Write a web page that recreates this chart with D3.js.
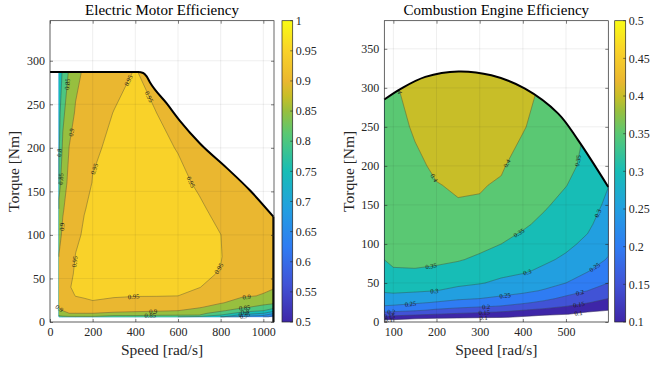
<!DOCTYPE html>
<html>
<head>
<meta charset="utf-8">
<script src="https://cdn.jsdelivr.net/npm/d3@7"></script>
<style>
  body { margin: 0; background: #fff; }
  svg text { font-family: "Liberation Serif", "DejaVu Serif", serif; fill: #262626; }
</style>
</head>
<body>
<svg id="chart" width="653" height="370"></svg>
<script>
// ---------- electric motor map (efficiency) ----------
const motorSpeed  = [42, 60, 90, 120, 160, 200, 300, 400, 500, 600, 700, 800, 900, 1000, 1047];
const motorTorque = [6, 8, 10, 13, 17, 22, 30, 40, 55, 75, 100, 130, 160, 200, 240, 290];
// one list per speed, values along motorTorque
const motorEff = [
  [.840, .856, .869, .888, .903, .911, .923, .927, .916, .902, .885, .864, .827, .793, .783, .770],
  [.845, .858, .875, .900, .906, .914, .927, .933, .927, .919, .909, .896, .880, .860, .838, .806],
  [.845, .867, .900, .907, .916, .928, .940, .949, .943, .936, .926, .919, .911, .901, .882, .855],
  [.845, .867, .900, .909, .921, .935, .951, .953, .954, .951, .945, .936, .927, .916, .904, .889],
  [.845, .867, .900, .912, .927, .946, .952, .954, .957, .956, .953, .949, .940, .929, .918, .904],
  [.845, .867, .900, .913, .929, .949, .952, .954, .957, .960, .957, .954, .951, .947, .935, .910],
  [.820, .864, .893, .910, .925, .944, .952, .954, .958, .964, .963, .961, .958, .954, .951, .937],
  [.820, .863, .888, .907, .921, .939, .951, .953, .957, .961, .967, .964, .961, .957, .954, .951],
  [.810, .856, .881, .905, .919, .936, .951, .953, .956, .961, .966, .963, .959, .955, .950, .935],
  [.800, .853, .872, .900, .912, .927, .950, .952, .954, .958, .962, .958, .955, .949, .938, .925],
  [.790, .850, .863, .883, .904, .917, .937, .951, .953, .956, .957, .953, .947, .937, .927, .915],
  [.760, .800, .827, .858, .881, .903, .922, .935, .949, .951, .9502, .944, .937, .929, .921, .910],
  [.690, .738, .780, .822, .858, .884, .904, .911, .922, .936, .937, .932, .927, .920, .913, .905],
  [.670, .710, .750, .800, .835, .864, .898, .905, .913, .924, .930, .926, .921, .914, .908, .900],
  [.630, .663, .710, .767, .820, .858, .889, .903, .911, .921, .926, .921, .917, .910, .903, .895]
];
const motorMaxSpeed  = [0, 414, 437, 453, 469, 547, 609, 703, 828, 938, 1047];
const motorMaxTorque = [287, 287, 286, 282, 275, 251, 231, 205, 177, 151, 121];
const motorLevels = [0.6, 0.65, 0.7, 0.75, 0.8, 0.85, 0.9, 0.95];
const motorXTicks = [0, 200, 400, 600, 800, 1000];
const motorYTicks = [0, 50, 100, 150, 200, 250, 300];
const motorCbTicks = [0.5, 0.55, 0.6, 0.65, 0.7, 0.75, 0.8, 0.85, 0.9, 0.95, 1];

// ---------- combustion engine map ----------
const engineSpeed  = [79, 100, 150, 200, 250, 300, 350, 400, 450, 500, 550, 598];
const engineTorque = [0, 3, 6, 10, 15, 20, 25, 30, 40, 50, 65, 80, 100, 125, 150, 175, 200, 250, 300, 340];
const engineEff = [
  [0, .100, .133, .178, .218, .247, .265, .282, .305, .316, .334, .3502, .356, .363, .370, .374, .377, .385, .390, .390],
  [0, .100, .130, .172, .215, .244, .264, .282, .308, .324, .348, .354, .360, .368, .375, .379, .383, .391, .397, .397],
  [0, .086, .123, .160, .206, .233, .257, .275, .305, .322, .348, .356, .364, .375, .385, .390, .395, .403, .409, .410],
  [0, .075, .117, .150, .192, .221, .247, .266, .300, .317, .343, .357, .369, .385, .392, .399, .404, .410, .417, .420],
  [0, .067, .112, .142, .181, .212, .236, .256, .288, .310, .334, .353, .367, .382, .3985, .4025, .406, .414, .422, .425],
  [0, .060, .107, .136, .171, .205, .227, .250, .278, .303, .323, .343, .361, .380, .398, .4015, .405, .411, .418, .420],
  [0, .055, .103, .130, .163, .197, .220, .241, .268, .291, .312, .328, .350, .369, .384, .3975, .4025, .408, .414, .415],
  [0, .046, .092, .121, .150, .181, .208, .229, .260, .280, .305, .318, .336, .356, .371, .383, .390, .402, .408, .406],
  [0, .038, .075, .111, .139, .165, .190, .211, .246, .266, .291, .307, .322, .340, .355, .365, .375, .389, .396, .395],
  [0, .032, .063, .102, .126, .150, .169, .189, .221, .250, .271, .293, .309, .323, .337, .351, .359, .375, .378, .380],
  [0, .025, .050, .083, .113, .133, .153, .169, .200, .222, .252, .269, .291, .308, .319, .330, .341, .346, .347, .348],
  [0, .020, .040, .067, .100, .117, .133, .150, .175, .200, .223, .247, .261, .276, .291, .301, .304, .310, .315, .320]
];
const engineMaxSpeed  = [79, 118, 174, 251, 327, 405, 482, 528, 598];
const engineMaxTorque = [285, 299, 314, 321, 316, 299, 267, 233, 173];
const engineLevels = [0.1, 0.15, 0.2, 0.25, 0.3, 0.35, 0.4, 0.45];
const engineXTicks = [100, 200, 300, 400, 500];
const engineYTicks = [0, 50, 100, 150, 200, 250, 300, 350];
const engineCbTicks = [0.1, 0.15, 0.2, 0.25, 0.3, 0.35, 0.4, 0.45, 0.5];

// parula-like colour map
const cmap = d3.scaleLinear()
  .domain([0, 0.125, 0.25, 0.375, 0.5, 0.625, 0.7, 0.75, 0.8, 0.9, 1])
  .range(["#3e26a8", "#4153d6", "#2f7cf3", "#229fe0", "#17bdb6", "#5ac873",
          "#97bf3f", "#c8be28", "#eab730", "#f9d229", "#f9fb14"])
  .interpolate(d3.interpolateRgb)
  .clamp(true);

const FONT = '"Liberation Serif", "DejaVu Serif", serif';
const svg = d3.select("#chart");
const fmt = v => String(+v.toFixed(2));

function drawMap(o) {
  const x = d3.scaleLinear().domain(o.xDomain).range(o.xRange);
  const y = d3.scaleLinear().domain(o.yDomain).range(o.yRange);
  const [xl, xr] = o.xRange, [yb, yt] = o.yRange;
  const g = svg.append("g");
  const color = l => cmap((l - o.cmin) / (o.cmax - o.cmin));

  // clip to the max torque envelope
  const clipId = "clip-" + o.id;
  const env = d3.area()
    .x((d, i) => x(o.maxS[i])).y0(y(0)).y1((d, i) => y(o.maxT[i]))
    .curve(o.curve);
  svg.append("clipPath").attr("id", clipId).append("path").attr("d", env(o.maxS));

  // grid -> contour bands
  const nx = o.speeds.length, ny = o.torques.length;
  const values = [];
  for (let j = 0; j < ny; j++) for (let i = 0; i < nx; i++) values.push(o.eff[i][j]);
  const ix = d3.scaleLinear().domain(d3.range(nx)).range(o.speeds).clamp(true);
  const iy = d3.scaleLinear().domain(d3.range(ny)).range(o.torques).clamp(true);
  const P = p => [x(ix(p[0] - 0.5)), y(iy(p[1] - 0.5))];
  const bands = d3.contours().size([nx, ny]).thresholds(o.levels)(values);

  const fills = g.append("g").attr("clip-path", `url(#${clipId})`);
  bands.forEach(b => {
    const d = b.coordinates.map(poly => poly.map(ring =>
      "M" + ring.map(p => P(p).join(",")).join("L") + "Z").join("")).join("");
    if (d) fills.append("path").attr("d", d)
      .attr("fill", color(b.value)).attr("stroke", color(b.value)).attr("stroke-width", 0.3);
  });

  // iso lines (drop the parts that run along the grid border)
  const onEdge = (p, q) => (p[0] === 0 && q[0] === 0) || (p[0] === nx && q[0] === nx) ||
                           (p[1] === 0 && q[1] === 0) || (p[1] === ny && q[1] === ny);
  const lines = g.append("g").attr("clip-path", `url(#${clipId})`);
  const line = d3.line();
  bands.forEach(b => {
    b.coordinates.forEach(poly => poly.forEach(ring0 => {
      const ring = ring0.slice();
      const f = ring[0], l = ring[ring.length - 1];
      if (f[0] !== l[0] || f[1] !== l[1]) ring.push(f);
      let segs = [], cur = [];
      for (let k = 1; k < ring.length; k++) {
        const p = ring[k - 1], q = ring[k];
        if (onEdge(p, q)) { if (cur.length > 1) segs.push(cur); cur = []; }
        else { if (!cur.length) cur.push(P(p)); cur.push(P(q)); }
      }
      if (cur.length > 1) segs.push(cur);
      if (segs.length > 1 && !onEdge(ring[0], ring[1]) && !onEdge(ring[ring.length - 2], ring[ring.length - 1])) {
        const last = segs.pop();
        segs[0] = last.concat(segs[0].slice(1));
      }
      segs.forEach(s => {
        lines.append("path").attr("d", line(s)).attr("fill", "none")
          .attr("stroke", "#3a3a3a").attr("stroke-opacity", 0.75).attr("stroke-width", 0.5);
        // labels along the line
        let acc = 0, next = 30;
        for (let k = 1; k < s.length; k++) {
          const [x0, y0] = s[k - 1], [x1, y1] = s[k];
          const dd = Math.hypot(x1 - x0, y1 - y0);
          while (dd > 0 && acc + dd >= next) {
            const t = (next - acc) / dd;
            let a = Math.atan2(y1 - y0, x1 - x0) * 180 / Math.PI;
            if (a > 90) a -= 180; if (a < -90) a += 180;
            lines.append("text")
              .attr("transform", `translate(${x0 + t * (x1 - x0)},${y0 + t * (y1 - y0)}) rotate(${a})`)
              .attr("text-anchor", "middle").attr("dy", "0.35em")
              .style("font-size", "6.5px").style("font-family", FONT).style("fill", "#1a1a1a")
              .text(fmt(b.value));
            next += 95;
          }
          acc += dd;
        }
      });
    }));
  });

  // grid lines
  const grid = g.append("g").attr("stroke", "#262626").attr("stroke-opacity", 0.13).attr("stroke-width", 0.6);
  o.xTicks.forEach(v => grid.append("line").attr("x1", x(v)).attr("x2", x(v)).attr("y1", yb).attr("y2", yt));
  o.yTicks.forEach(v => grid.append("line").attr("x1", xl).attr("x2", xr).attr("y1", y(v)).attr("y2", y(v)));

  // max torque envelope
  const envLine = d3.line().x((d, i) => x(o.maxS[i])).y((d, i) => y(o.maxT[i])).curve(o.curve);
  g.append("path").attr("d", envLine(o.maxS)).attr("fill", "none").attr("stroke", "#000").attr("stroke-width", 2);
  if (o.closeRight) {
    const n = o.maxS.length - 1;
    g.append("line").attr("x1", x(o.maxS[n])).attr("x2", x(o.maxS[n]))
      .attr("y1", y(o.maxT[n])).attr("y2", y(0)).attr("stroke", "#000").attr("stroke-width", 2);
  }

  // axes with inward ticks on all four sides
  const ax = (gen, tr) => g.append("g").attr("transform", tr).call(gen)
    .attr("font-family", FONT)
    .call(s => s.select(".domain").remove())
    .call(s => s.selectAll("line").attr("stroke", "#262626").attr("stroke-width", 0.6))
    .call(s => s.selectAll("text").style("font-size", "12px").style("font-family", FONT).style("fill", "#262626"));
  ax(d3.axisBottom(x).tickValues(o.xTicks).tickSize(-3).tickPadding(5).tickFormat(d3.format("d")), `translate(0,${yb})`);
  ax(d3.axisTop(x).tickValues(o.xTicks).tickSize(-3).tickFormat(""), `translate(0,${yt})`);
  ax(d3.axisLeft(y).tickValues(o.yTicks).tickSize(-3).tickPadding(5).tickFormat(d3.format("d")), `translate(${xl},0)`);
  ax(d3.axisRight(y).tickValues(o.yTicks).tickSize(-3).tickFormat(""), `translate(${xr},0)`);
  g.append("rect").attr("x", xl).attr("y", yt).attr("width", xr - xl).attr("height", yb - yt)
    .attr("fill", "none").attr("stroke", "#262626").attr("stroke-width", 0.7);

  // titles
  const cx = (xl + xr) / 2;
  g.append("text").attr("x", cx).attr("y", 15).attr("text-anchor", "middle")
    .style("font-size", "15px").style("fill", "#000").text(o.title);
  g.append("text").attr("x", cx).attr("y", 355).attr("text-anchor", "middle")
    .style("font-size", "15.5px").text("Speed [rad/s]");
  g.append("text").attr("transform", `translate(${o.ylabX},${(yb + yt) / 2}) rotate(-90)`)
    .attr("text-anchor", "middle").style("font-size", "15.5px").text("Torque [Nm]");

  // colour bar
  const gradId = "grad-" + o.id;
  const grad = svg.append("defs").append("linearGradient").attr("id", gradId)
    .attr("x1", 0).attr("y1", 1).attr("x2", 0).attr("y2", 0);
  d3.range(0, 1.0001, 1 / 40).forEach(t => grad.append("stop").attr("offset", t).attr("stop-color", cmap(t)));
  const cy = d3.scaleLinear().domain([o.cmin, o.cmax]).range([yb, yt]);
  g.append("rect").attr("x", o.cbX).attr("y", yt).attr("width", o.cbW).attr("height", yb - yt)
    .attr("fill", `url(#${gradId})`).attr("stroke", "#262626").attr("stroke-width", 0.7);
  o.cbTicks.forEach(v => {
    g.append("line").attr("x1", o.cbX + o.cbW - 2.5).attr("x2", o.cbX + o.cbW)
      .attr("y1", cy(v)).attr("y2", cy(v)).attr("stroke", "#262626").attr("stroke-width", 0.6);
    g.append("text").attr("x", o.cbX + o.cbW + 3).attr("y", cy(v)).attr("dy", "0.35em")
      .style("font-size", "12px").text(fmt(v));
  });
}

drawMap({
  id: "motor", title: "Electric Motor Efficiency",
  speeds: motorSpeed, torques: motorTorque, eff: motorEff, levels: motorLevels,
  cmin: 0.5, cmax: 1, maxS: motorMaxSpeed, maxT: motorMaxTorque, closeRight: true,
  curve: d3.curveMonotoneX,
  xDomain: [0, 1050], yDomain: [0, 346], xRange: [50, 274], yRange: [322, 20.7],
  xTicks: motorXTicks, yTicks: motorYTicks, cbTicks: motorCbTicks,
  cbX: 282, cbW: 10.7, ylabX: 19
});
drawMap({
  id: "engine", title: "Combustion Engine Efficiency",
  speeds: engineSpeed, torques: engineTorque, eff: engineEff, levels: engineLevels,
  cmin: 0.1, cmax: 0.5, maxS: engineMaxSpeed, maxT: engineMaxTorque, closeRight: false,
  curve: d3.curveCatmullRom.alpha(0.5),
  xDomain: [79, 598], yDomain: [0, 386], xRange: [384.3, 608.3], yRange: [322, 20.7],
  xTicks: engineXTicks, yTicks: engineYTicks, cbTicks: engineCbTicks,
  cbX: 614.7, cbW: 11, ylabX: 354
});
</script>
</body>
</html>
